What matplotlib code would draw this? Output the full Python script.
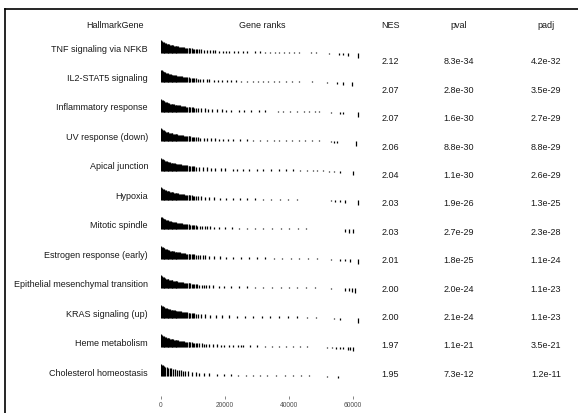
import numpy as np
import matplotlib
matplotlib.use("Agg")
import matplotlib.pyplot as plt

plt.rcParams['font.family'] = ['Liberation Sans', 'DejaVu Sans']

pathways = ['TNF signaling via NFKB', 'IL2-STAT5 signaling', 'Inflammatory response',
            'UV response (down)', 'Apical junction', 'Hypoxia', 'Mitotic spindle',
            'Estrogen response (early)', 'Epithelial mesenchymal transition',
            'KRAS signaling (up)', 'Heme metabolism', 'Cholesterol homeostasis']
nes = ['2.12', '2.07', '2.07', '2.06', '2.04', '2.03', '2.03', '2.01', '2.00', '2.00', '1.97', '1.95']
pval = ['8.3e-34', '2.8e-30', '1.6e-30', '8.8e-30', '1.1e-30', '1.9e-26', '2.7e-29',
        '1.8e-25', '2.0e-24', '2.1e-24', '1.1e-21', '7.3e-12']
padj = ['4.2e-32', '3.5e-29', '2.7e-29', '8.8e-29', '2.6e-29', '1.3e-25', '2.3e-28',
        '1.1e-24', '1.1e-23', '1.1e-23', '3.5e-21', '1.2e-11']

# ranked statistic (scaled to max 1), rank in thousands
stat_rank_k = [0, 0.3, 0.7, 1.5, 3, 5, 8, 12, 18, 25, 35, 45, 50, 52, 55, 58, 60, 61.5, 62.5]
stat_value = [1.0, 0.92, 0.84, 0.74, 0.62, 0.52, 0.4, 0.28, 0.19, 0.14, 0.1, 0.08, 0.06, -0.06, -0.13, -0.22, -0.3, -0.42, -0.6]

# gene positions in the ranked list (thousands)
dense_a = [0.05, 0.3, 0.5, 0.8, 1.0, 1.3, 1.55, 1.75, 2.05, 2.3, 2.5, 2.8, 3.1, 3.3, 3.55, 3.85,
           4.05, 4.3, 4.6, 4.8, 5.05, 5.35, 5.55, 5.8, 6.15, 6.45, 6.8, 7.1, 7.5, 7.85, 8.15,
           8.6, 8.9, 9.2, 9.65, 9.95]
genes_tnf = dense_a + [10.3, 10.8, 11.4, 12.0, 12.6, 13.5, 14.5, 15.3, 16.2, 17.0, 18.1, 19.5, 20.3,
                       21.4, 22.8, 24.0, 25.5, 27.0, 29.5, 31, 32.5, 34, 35.5, 37, 38.5, 40, 41.5,
                       43, 47, 48.5, 50.5, 52.5, 55.5, 57, 58.5, 61.5]
genes_il2 = dense_a + [10.4, 10.9, 11.6, 12.3, 13.2, 14.4, 15.1, 16.5, 17.8, 19.0, 20.6, 22.0, 23.4,
                       25.1, 26.8, 28.6, 30.2, 32.0, 33.5, 35.4, 37.0, 39.2, 41.0, 43.0, 47.2,
                       48.6, 50.1, 51.8, 55.0, 57.0, 59.7]
genes_inf = dense_a + [10.4, 10.9, 11.5, 12.4, 13.6, 14.8, 16.0, 17.5, 19.1, 20.4, 22.0, 24.3, 26.0,
                       28.2, 30.5, 32.5, 36.5, 38.0, 40.4, 42.5, 44.6, 46.3, 48.0, 49.5, 51.0,
                       53.0, 56.0, 57.0, 61.5]
genes_uv = dense_a + [10.3, 10.8, 11.5, 12.2, 13.3, 14.5, 15.6, 16.8, 18.0, 19.4, 20.8, 22.5, 24.7,
                      26.9, 28.6, 30.8, 33.0, 35.2, 37.0, 39.1, 41.0, 43.0, 45.0, 47.3, 49.5,
                      51.2, 53.0, 54.2, 55.0, 61.0]
genes_api = dense_a + [10.4, 10.9, 11.8, 13.0, 14.3, 15.5, 17.0, 18.6, 20.1, 22.5, 23.7, 25.5, 27.6,
                       29.9, 32.0, 34.4, 36.8, 39.0, 41.4, 43.5, 45.6, 47.5, 48.7, 50.5, 52.4,
                       54.0, 56.0, 60.0]
genes_hyp = dense_a + [10.4, 10.9, 11.6, 12.4, 13.6, 15.0, 16.7, 18.4, 20.3, 22.5, 24.6, 27.0, 29.5,
                       32.0, 34.5, 37.1, 39.7, 42.5, 53.0, 54.5, 56.0, 57.5, 61.5]
genes_mit = dense_a + [10.3, 10.8, 11.4, 12.1, 12.8, 13.6, 14.4, 15.2, 16.5, 18.0, 20.0, 22.1, 24.5,
                       27.0, 29.5, 32.0, 34.8, 37.5, 40.1, 42.8, 45.4, 48.0, 50.0, 57.5, 58.7,
                       60.0]
genes_est = dense_a + [10.3, 10.8, 11.5, 12.2, 13.0, 13.7, 15.0, 16.6, 18.3, 20.4, 22.6, 25.0, 27.5,
                       30.0, 32.6, 35.2, 37.9, 40.5, 43.2, 46.0, 48.6, 51.0, 53.0, 56.0, 57.4,
                       59.0, 61.5]
genes_emt = dense_a + [10.3, 10.8, 11.4, 12.0, 12.7, 13.4, 14.2, 15.0, 16.4, 18.0, 19.8, 22.0, 24.3,
                       26.8, 29.4, 32.0, 34.7, 37.4, 40.0, 42.6, 45.3, 48.0, 50.6, 53.0, 57.5,
                       58.6, 59.6, 60.6]
genes_kra = dense_a + [10.4, 10.9, 11.6, 12.4, 13.8, 15.4, 17.2, 19.2, 21.4, 23.8, 26.2, 28.8, 31.5,
                       34.2, 37.0, 39.8, 42.6, 45.5, 48.4, 51.2, 54.0, 56.0, 61.5]
genes_hem = dense_a + [10.3, 10.8, 11.4, 12.0, 12.7, 13.4, 14.0, 15.0, 16.2, 17.4, 18.6, 19.8, 21.2,
                       22.6, 24.0, 25.0, 25.6, 27.8, 30.0, 32.4, 34.6, 36.8, 39.0, 41.3, 43.5,
                       45.6, 50.6, 52.0, 53.4, 54.6, 55.8, 57.0, 58.5, 59.2, 60.0]
genes_cho = [0.1, 0.4, 0.7, 1.0, 1.4, 1.8, 2.2, 2.7, 3.2, 3.8, 4.4, 5.0, 5.7, 6.4, 7.0, 7.6, 8.5, 9.6,
             10.8, 12.0, 13.4, 15.0, 17.5, 19.6, 22.0, 24.2, 26.5, 28.8, 31.0, 33.0, 36.0, 38.6,
             41.2, 43.8, 46.4, 49.0, 50.5, 52.0, 55.3]
gene_sets = [genes_tnf, genes_il2, genes_inf, genes_uv, genes_api, genes_hyp, genes_mit,
             genes_est, genes_emt, genes_kra, genes_hem, genes_cho]

W, H = 578, 414
fig = plt.figure(figsize=(W / 100, H / 100), dpi=100)

def fx(px):
    return px / W

def fy(py):
    return 1 - py / H

# frame of the exported table
fig.add_artist(plt.Line2D([fx(5), fx(5)], [fy(10), 0], color='black', lw=1.2))
fig.add_artist(plt.Line2D([fx(5), 1], [fy(10), fy(10)], color='black', lw=1.2))

fs = 6.5
col = '#1a1a1a'
fig.text(fx(115), fy(25), 'HallmarkGene', ha='center', va='center', fontsize=fs, color=col)
fig.text(fx(262), fy(25), 'Gene ranks', ha='center', va='center', fontsize=fs, color=col)
fig.text(fx(390), fy(25), 'NES', ha='center', va='center', fontsize=fs, color=col)
fig.text(fx(459), fy(25), 'pval', ha='center', va='center', fontsize=fs, color=col)
fig.text(fx(546), fy(25), 'padj', ha='center', va='center', fontsize=fs, color=col)

for i, name in enumerate(pathways):
    ly = 49 + i * 29.5
    ny = 62 + i * 28.4
    fig.text(fx(148), fy(ly), name, ha='right', va='center', fontsize=fs, color=col)
    fig.text(fx(390), fy(ny), nes[i], ha='center', va='center', fontsize=fs, color=col)
    fig.text(fx(459), fy(ny), pval[i], ha='center', va='center', fontsize=fs, color=col)
    fig.text(fx(546), fy(ny), padj[i], ha='center', va='center', fontsize=fs, color=col)

# gene rank panel, y in pixel units
x0, x1 = 161, 362.6
top, bot = 30, 397
ax = fig.add_axes([fx(x0), fy(bot), fx(x1) - fx(x0), fy(top) - fy(bot)])
ax.set_xlim(0, 63000)
ax.set_ylim(bot, top)
unit = 13.0
for i, genes in enumerate(gene_sets):
    base = 54 + i * 29.4
    pos = np.array(genes) * 1000
    h = np.interp(genes, stat_rank_k, stat_value)
    ax.vlines(pos, base, base - h * unit, color='black', lw=0.9)

for s in ax.spines.values():
    s.set_visible(False)
ax.set_yticks([])
ax.set_xticks([0, 20000, 40000, 60000])
ax.set_xticklabels(['0', '20000', '40000', '60000'])
ax.tick_params(axis='x', length=2.5, width=0.5, color='#555555', labelsize=4.8,
               labelcolor='#4d4d4d', pad=1)

fig.savefig('out.png', dpi=100)
